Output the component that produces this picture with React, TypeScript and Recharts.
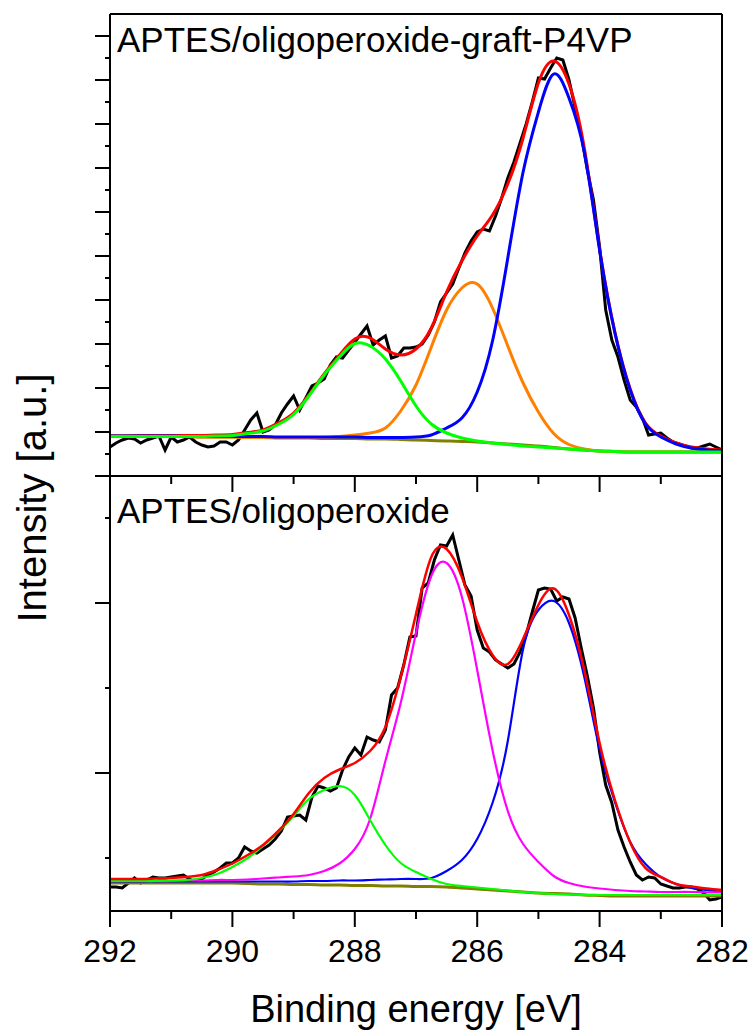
import { Line, LineChart, XAxis, YAxis } from "recharts";

// C 1s spectra, binding energy grid of the fitted curves and of the measured data
const fitEnergy = [
  292, 291.75, 291.5, 291.25, 291, 290.75, 290.5, 290.25, 290, 289.75, 289.5,
  289.25, 289, 288.75, 288.5, 288.25, 288, 287.75, 287.5, 287.25, 287, 286.75,
  286.5, 286.25, 286, 285.75, 285.5, 285.25, 285, 284.75, 284.5, 284.25, 284,
  283.75, 283.5, 283.25, 283, 282.75, 282.5, 282.25, 282
];

const rawEnergy = [
  292.0, 291.9, 291.8, 291.7, 291.6, 291.5, 291.4, 291.3, 291.2, 291.1,
  291.0, 290.9, 290.8, 290.7, 290.6, 290.5, 290.4, 290.3, 290.2, 290.1,
  290.0, 289.9, 289.8, 289.7, 289.6, 289.5, 289.4, 289.3, 289.2, 289.1,
  289.0, 288.9, 288.8, 288.7, 288.6, 288.5, 288.4, 288.3, 288.2, 288.1,
  288.0, 287.9, 287.8, 287.7, 287.6, 287.5, 287.4, 287.3, 287.2, 287.1,
  287.0, 286.9, 286.8, 286.7, 286.6, 286.5, 286.4, 286.3, 286.2, 286.1,
  286.0, 285.9, 285.8, 285.7, 285.6, 285.5, 285.4, 285.3, 285.2, 285.1,
  285.0, 284.9, 284.8, 284.7, 284.6, 284.5, 284.4, 284.3, 284.2, 284.1,
  284.0, 283.9, 283.8, 283.7, 283.6, 283.5, 283.4, 283.3, 283.2, 283.1,
  283.0, 282.9, 282.8, 282.7, 282.6, 282.5, 282.4, 282.3, 282.2, 282.1,
  282.0
];

// APTES/oligoperoxide-graft-P4VP (a.u.)
const graftRaw = [
  29, 33, 36, 38, 37, 33, 36, 38, 40, 26,
  39, 34, 36, 39, 34, 31, 29, 30, 34, 34,
  31, 36, 46, 56, 63, 44, 46, 51, 63, 72,
  80, 66, 78, 90, 93, 97, 111, 119, 118, 126,
  134, 142, 150, 131, 136, 140, 118, 120, 128, 128,
  129, 132, 141, 154, 174, 183, 192, 208, 223, 235,
  244, 247, 245, 260, 278, 298, 314, 333, 352, 374,
  398, 397, 408, 418, 416, 396, 368, 341, 306, 276,
  229, 166, 136, 119, 96, 76, 69, 58, 41, 42,
  43, 38, 34, 32, 30, 28, 28, 30, 32, 29,
  26
];
const graftEnvelope = [
  40.5, 40.5, 40.5, 40.5, 40.5, 40.5, 40.5, 41, 41.5, 43.5, 46, 53, 63, 81,
  102, 121, 137, 138, 127, 121, 127, 148, 184, 215, 240, 261, 292, 338, 393,
  415, 392, 328, 227, 144, 87, 53, 40, 33, 29, 27, 26
];
const graftCC = [
  40, 40, 40, 40, 40, 39.5, 39.5, 39.5, 39.5, 39.5, 39.5, 39, 39, 39, 39, 39,
  39, 38.5, 38.5, 38.5, 39, 41, 48, 58, 84, 135, 218, 304, 364, 402, 378, 324,
  226, 143, 86, 52, 39, 32, 28, 26, 25
];
const graftCN = [
  40, 40, 39.5, 39.5, 39.5, 39.5, 39, 39, 39, 38.5, 38.5, 38.5, 38.5, 38.5,
  38.5, 39.5, 41, 43, 48, 65, 91, 129, 166, 188, 192, 168, 130, 93, 64, 42.5,
  31.5, 27, 25, 24.5, 24, 24, 24, 24, 24, 24, 24
];
const graftCO = [
  39.5, 39.5, 39.5, 39.5, 39.5, 39.5, 39.5, 40, 40.5, 42.5, 45, 51.5, 61.5, 80,
  101, 119, 132.5, 130, 117, 95, 70, 52, 43, 38, 35, 33, 31.5, 30, 29, 28, 27,
  26, 25, 24.5, 24, 24, 24, 24, 24, 24, 24
];
const graftBackground = [
  40, 40, 39.5, 39.5, 39.5, 39.5, 39, 39, 39, 38.5, 38.5, 38, 38, 38, 37.5,
  37.5, 37.5, 37, 37, 36.5, 36, 35.5, 35, 34.5, 34, 33, 32, 31, 30, 28.5, 27,
  26, 25, 24.5, 24, 24, 24, 24, 24, 24, 24
];

// APTES/oligoperoxide (a.u.)
const aptesRaw = [
  24, 24, 23, 28, 33, 28, 31, 34, 33, 33,
  34, 35, 36, 32, 29, 32, 36, 39, 43, 48,
  48, 53, 64, 60, 58, 62, 66, 72, 80, 94,
  95, 96, 91, 114, 125, 123, 120, 123, 141, 154,
  163, 156, 174, 171, 169, 181, 216, 223, 246, 274,
  275, 323, 328, 351, 366, 365, 376, 351, 326, 315,
  281, 263, 259, 251, 247, 243, 247, 259, 276, 299,
  321, 323, 322, 310, 314, 312, 293, 263, 235, 203,
  159, 126, 108, 81, 64, 49, 36, 31, 34, 33,
  27, 25, 23, 23, 24, 24, 22, 18, 11, 12,
  14
];
const aptesEnvelope = [
  32, 32, 32, 32.5, 33, 34, 36, 41, 47.5, 56, 66, 80, 97, 118, 133, 141.5, 148,
  160, 184, 234, 297, 354, 362, 334, 289, 256, 247, 272, 306, 322.5, 296, 241,
  168, 111, 68.5, 43, 34, 27, 24.5, 22.5, 21
];
const aptesCC = [
  29.5, 29.5, 29.5, 29.5, 29.5, 29.5, 29.5, 29.5, 29.5, 29.5, 29.5, 29.5, 29.5,
  30, 30, 30.5, 30.5, 31, 31.5, 32, 32, 33, 40, 51, 72, 108, 170, 262, 301, 310,
  288, 234, 162, 109, 69, 47, 34, 27, 23, 21, 19
];
const aptesCO = [
  30, 30, 30, 30, 30, 30.5, 30.5, 31, 31, 31.5, 32.5, 33.5, 34.5, 36, 40, 47.5,
  62, 92, 150, 208, 278, 335, 348, 314, 241, 161, 100, 67, 49, 35, 28, 24.5,
  22.5, 21, 20, 19.5, 19, 19, 19, 18.7, 18.7
];
const aptesOCO = [
  30, 30, 30, 30, 30.5, 31, 33, 37, 44, 53, 65, 79, 95, 112, 121, 125, 116, 91,
  66, 48, 39, 32, 27, 25, 23.5, 22, 20.5, 19, 18, 17, 16.5, 16, 16, 16, 16, 16,
  16, 16, 16, 16, 16
];
const aptesBackground = [
  28, 28, 28, 28, 28, 28, 28, 28, 28, 27.5, 27, 27, 26.5, 26.5, 26, 26, 25.5,
  25.5, 25, 25, 24.5, 24.5, 24, 23, 22, 21, 20, 19, 18, 17.5, 17, 16, 15.5, 15,
  15, 15, 15, 15, 15, 15, 15
];

const energyTicks = [282, 283, 284, 285, 286, 287, 288, 289, 290, 291, 292];
const graftMajorTicks = [0, 44, 88, 132, 176, 220, 264, 308, 352, 396, 440];
const graftMinorTicks = [22, 66, 110, 154, 198, 242, 286, 330, 374, 418];
const aptesMajorTicks = [138, 308];
const aptesMinorTicks = [53, 223, 393];

const colors = {
  raw: "#000000",
  envelope: "#ff0000",
  cc: "#0000ff",
  cn: "#ff8000",
  co: "#00ff00",
  oco: "#ff00ff",
  background: "#808000"
};

const font = "'Liberation Sans', Arial, sans-serif";

function toSeries(energies: number[], values: number[]) {
  return energies.map((e, i) => ({ e, v: values[i] }));
}

function EnergyTick(props: any) {
  const { x, y, payload, showLabel } = props;
  const major = payload.value % 2 === 0;
  return (
    <g>
      <line x1={x} y1={y} x2={x} y2={y + (major ? 16 : 8)} stroke="#000" strokeWidth={2} />
      {showLabel && major && (
        <text x={x} y={y + 51} textAnchor="middle" fontSize={32} fontFamily={font} fill="#000">
          {payload.value}
        </text>
      )}
    </g>
  );
}

function IntensityTick(props: any) {
  const { x, y, payload, majors } = props;
  const len = majors.includes(payload.value) ? 15 : 5;
  return <line x1={x - len} y1={y} x2={x} y2={y} stroke="#000" strokeWidth={2} />;
}

export default function App() {
  const axisLine = { stroke: "#000", strokeWidth: 2 };
  const fitLine = (values: number[], color: string, width: number) => (
    <Line
      data={toSeries(fitEnergy, values)}
      dataKey="v"
      type="natural"
      stroke={color}
      strokeWidth={width}
      dot={false}
      activeDot={false}
      isAnimationActive={false}
    />
  );
  const rawLine = (values: number[]) => (
    <Line
      data={toSeries(rawEnergy, values)}
      dataKey="v"
      type="linear"
      stroke={colors.raw}
      strokeWidth={3}
      dot={false}
      activeDot={false}
      isAnimationActive={false}
    />
  );

  // axes are 1px thick/wide so that Recharts still draws them; margins compensate
  const xAxes = (showLabel: boolean) => [
    <XAxis
      key="bottom"
      dataKey="e"
      type="number"
      domain={[282, 292]}
      reversed
      allowDataOverflow
      ticks={energyTicks}
      interval={0}
      height={1}
      tickSize={0}
      tickMargin={0}
      axisLine={axisLine}
      tickLine={false}
      tick={(p: any) => <EnergyTick {...p} showLabel={showLabel} />}
    />,
    <XAxis
      key="top"
      xAxisId="frame"
      orientation="top"
      type="number"
      domain={[282, 292]}
      reversed
      height={1}
      axisLine={axisLine}
      tick={false}
      tickLine={false}
    />
  ];

  const yAxes = (domain: number[], majors: number[], minors: number[]) => [
    <YAxis
      key="left"
      type="number"
      domain={domain}
      allowDataOverflow
      ticks={[...majors, ...minors]}
      interval={0}
      width={1}
      tickSize={0}
      tickMargin={0}
      axisLine={axisLine}
      tickLine={false}
      tick={(p: any) => <IntensityTick {...p} majors={majors} />}
    />,
    <YAxis
      key="right"
      yAxisId="frame"
      orientation="right"
      type="number"
      domain={domain}
      width={1}
      axisLine={axisLine}
      tick={false}
      tickLine={false}
    />
  ];

  return (
    <div style={{ position: "absolute", left: 0, top: 0, width: 753, height: 1035, background: "#fff" }}>
      <div style={{ position: "absolute", left: 0, top: 0 }}>
        <LineChart width={753} height={1035} margin={{ top: 475, right: 30, bottom: 123, left: 109 }}>
          {xAxes(true)}
          {yAxes([0, 435], aptesMajorTicks, aptesMinorTicks)}
          {rawLine(aptesRaw)}
          {fitLine(aptesBackground, colors.background, 3)}
          {fitLine(aptesCC, colors.cc, 2.2)}
          {fitLine(aptesCO, colors.oco, 2.2)}
          {fitLine(aptesOCO, colors.co, 2.2)}
          {fitLine(aptesEnvelope, colors.envelope, 2.5)}
        </LineChart>
      </div>
      <div style={{ position: "absolute", left: 0, top: 0 }}>
        <LineChart width={753} height={500} margin={{ top: 13, right: 30, bottom: 23, left: 109 }}>
          {xAxes(false)}
          {yAxes([0, 462], graftMajorTicks, graftMinorTicks)}
          {rawLine(graftRaw)}
          {fitLine(graftEnvelope, colors.envelope, 3)}
          {fitLine(graftBackground, colors.background, 3)}
          {fitLine(graftCN, colors.cn, 3)}
          {fitLine(graftCC, colors.cc, 3)}
          {fitLine(graftCO, colors.co, 3)}
        </LineChart>
      </div>
      <svg
        width={753}
        height={1035}
        style={{ position: "absolute", left: 0, top: 0, pointerEvents: "none" }}
        fontFamily={font}
        fill="#000"
      >
        <text x={117} y={52} fontSize={35}>APTES/oligoperoxide-graft-P4VP</text>
        <text x={117} y={523} fontSize={35}>APTES/oligoperoxide</text>
        <text x={416} y={1022} fontSize={38} textAnchor="middle">Binding energy [eV]</text>
        <text transform="translate(46, 498) rotate(-90)" fontSize={40} textAnchor="middle">
          Intensity [a.u.]
        </text>
      </svg>
    </div>
  );
}
